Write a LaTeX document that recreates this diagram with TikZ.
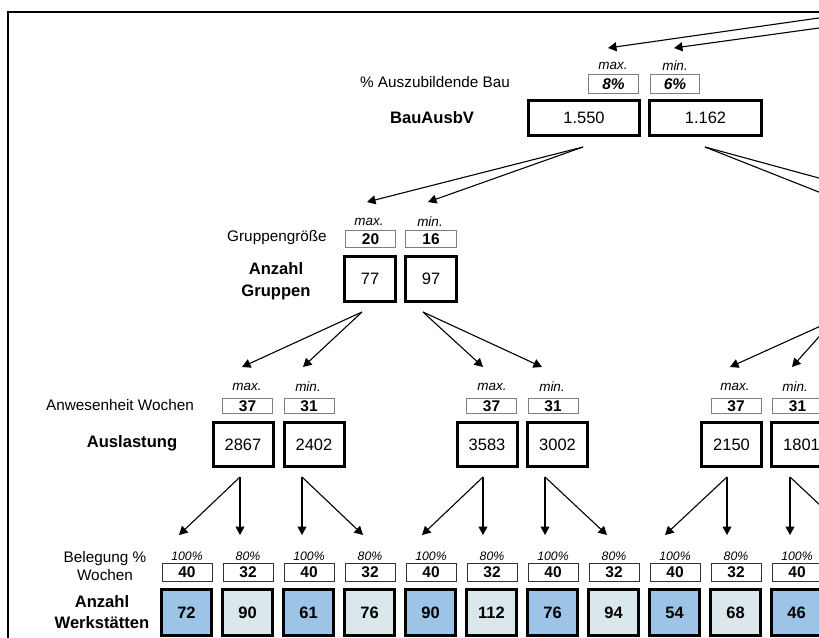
\documentclass[tikz,border=0pt]{standalone}
\usepackage{fontspec}
\setmainfont{Liberation Sans}
\usetikzlibrary{arrows.meta}
\definecolor{wblue}{HTML}{9DC3E6}
\definecolor{wpale}{HTML}{DAE8EC}
\definecolor{sgray}{HTML}{7F7F7F}
\newcommand\fsLab{\fontsize{15.3pt}{18pt}\selectfont}
\newcommand\fsBold{\fontsize{16.6pt}{21.5pt}\selectfont\bfseries}
\newcommand\fsMM{\fontsize{13.5pt}{15pt}\selectfont\itshape}
\newcommand\fsPct{\fontsize{12.3pt}{14pt}\selectfont\itshape}
\newcommand\fsNum{\fontsize{16.5pt}{19pt}\selectfont}
\newcommand\fsSmall{\fontsize{15.5pt}{18pt}\selectfont\bfseries}
\begin{document}
\begin{tikzpicture}[x=1pt,y=-1pt,
  lab/.style={inner sep=0pt, font=\fsLab, align=center},
  blab/.style={inner sep=0pt, font=\fsBold, align=center},
  mm/.style={inner sep=0pt, font=\fsMM},
  pct/.style={inner sep=0pt, font=\fsPct},
  sbox/.style={draw=sgray, line width=1pt, inner sep=0pt, font=\fsSmall},
  bsbox/.style={draw=black!80, line width=1pt, inner sep=0pt, font=\fsSmall, minimum width=50, minimum height=18},
  vbox/.style={draw=black, line width=3pt, inner sep=0pt, font=\fsNum},
  wbox/.style={draw=black, line width=3pt, inner sep=0pt, font=\fsNum\bfseries, minimum width=50, minimum height=46},
  arr/.style={-{Triangle[length=8.5pt,width=9pt]}, line width=1.1pt}
]
\useasboundingbox (0,0) rectangle (819,637);
\clip (0,0) rectangle (819,637);
\fill[white] (0,0) rectangle (819,637);
% frame
\draw[line width=1.5pt] (8,660) -- (8,12) -- (840,12);

% ---------- level 1 ----------
\node[lab] (t1) at (435,82) {\% Auszubildende Bau};
\node[blab] (t2) at (432,118) {BauAusbV};
\node[mm] (l1max) at (613,66) {max.};
\node[mm] (l1min) at (675,66) {min.};
\node[sbox, minimum width=50, minimum height=19, font=\fsSmall\itshape] (p8) at (613.5,84) {8\%};
\node[sbox, minimum width=49, minimum height=19, font=\fsSmall\itshape] (p6) at (675,84) {6\%};
\node[vbox, minimum width=111, minimum height=35] (b1) at (584,118) {1.550};
\node[vbox, minimum width=112, minimum height=35] (b2) at (705.5,118) {1.162};

\coordinate (top1) at (830,16.4);
\coordinate (top2) at (830,26.5);
\coordinate (tp1) at (608,48);
\coordinate (tp2) at (674,48);
\draw[arr] (top1) -- (tp1);
\draw[arr] (top2) -- (tp2);

\coordinate (s1) at (583,147);
\coordinate (s2) at (705,147);
\coordinate (tg1) at (367,202);
\coordinate (tg2) at (428,202);
\coordinate (tg3) at (844,202);
\coordinate (tg4) at (907,202);
\draw[arr] (s1) -- (tg1);
\draw[arr] (s1) -- (tg2);
\draw[arr] (s2) -- (tg3);
\draw[arr] (s2) -- (tg4);

% ---------- level 2 ----------
\node[lab] (t3) at (277,238) {Gruppengröße};
\node[blab] (t4) at (276,281) {Anzahl\\Gruppen};
\node[mm] (l2max) at (369,222) {max.};
\node[mm] (l2min) at (430,222) {min.};
\node[sbox, minimum width=50, minimum height=17] (g20) at (370.5,239) {20};
\node[sbox, minimum width=51, minimum height=17] (g16) at (431,239) {16};
\node[vbox, minimum width=51, minimum height=45] (n77) at (370,279) {77};
\node[vbox, minimum width=51, minimum height=45] (n97) at (431,279) {97};

\coordinate (s3) at (362,312);
\coordinate (s4) at (423,312);
\coordinate (s5) at (834,320);
\coordinate (ta1) at (242,367);
\coordinate (ta2) at (303,367);
\coordinate (ta3) at (483,367);
\coordinate (ta4) at (542,367);
\coordinate (ta5) at (730,367);
\coordinate (ta6) at (792,367);
\draw[arr] (s3) -- (ta1);
\draw[arr] (s3) -- (ta2);
\draw[arr] (s4) -- (ta3);
\draw[arr] (s4) -- (ta4);
\draw[arr] (s5) -- (ta5);
\draw[arr] (s5) -- (ta6);

% ---------- level 3 ----------
\node[lab] (t5) at (120,405) {Anwesenheit Wochen};
\node[blab] (t6) at (132,443) {Auslastung};
\foreach \n/\mx/\tx in {a/247/max., b/308/min., c/492/max., d/552/min., e/735/max., f/795/min.}{
  \node[mm] (m\n) at (\mx,387) {\tx};
}
\foreach \n/\sx/\tx in {a/247.5/37, b/309/31, c/491.5/37, d/553/31, e/736/37, f/797.5/31}{
  \node[sbox, minimum width=50, minimum height=15] (w\n) at (\sx,406) {\tx};
}
\foreach \n/\bx/\tx in {a/243/2867, b/314/2402, c/487/3583, d/557.5/3002, e/731.5/2150, f/801.5/1801}{
  \node[vbox, minimum width=60, minimum height=44] (u\n) at (\bx,444.5) {\tx};
}

% arrows level 3 -> 4
\foreach \n/\sx/\ta/\tb in {a/240/179/240, b/302/302/363, c/483/422/483, d/545/545/607, e/727/665/727, f/790/790/852}{
  \coordinate (src\n) at (\sx,477);
  \coordinate (tipL\n) at (\ta,535);
  \coordinate (tipR\n) at (\tb,535);
  \draw[arr] (src\n) -- (tipL\n);
  \draw[arr] (src\n) -- (tipR\n);
}

% ---------- level 4 ----------
\node[lab] (t7) at (105,566) {Belegung \%\\Wochen};
\node[blab] (t8) at (102,612) {Anzahl\\Werkstätten};
\foreach \i/\v/\p/\w/\c in {0/72/100/40/wblue, 1/90/80/32/wpale, 2/61/100/40/wblue, 3/76/80/32/wpale,
  4/90/100/40/wblue, 5/112/80/32/wpale, 6/76/100/40/wblue, 7/94/80/32/wpale,
  8/54/100/40/wblue, 9/68/80/32/wpale, 10/46/100/40/wblue}{
  \pgfmathsetmacro\cx{187+61*\i}
  \node[pct] (q\i) at (\cx,556) {\p\%};
  \node[bsbox] (k\i) at (\cx,572.5) {\w};
  \node[wbox, fill=\c] (z\i) at (\cx-0.5,612.5) {\v};
}
\end{tikzpicture}
\end{document}
